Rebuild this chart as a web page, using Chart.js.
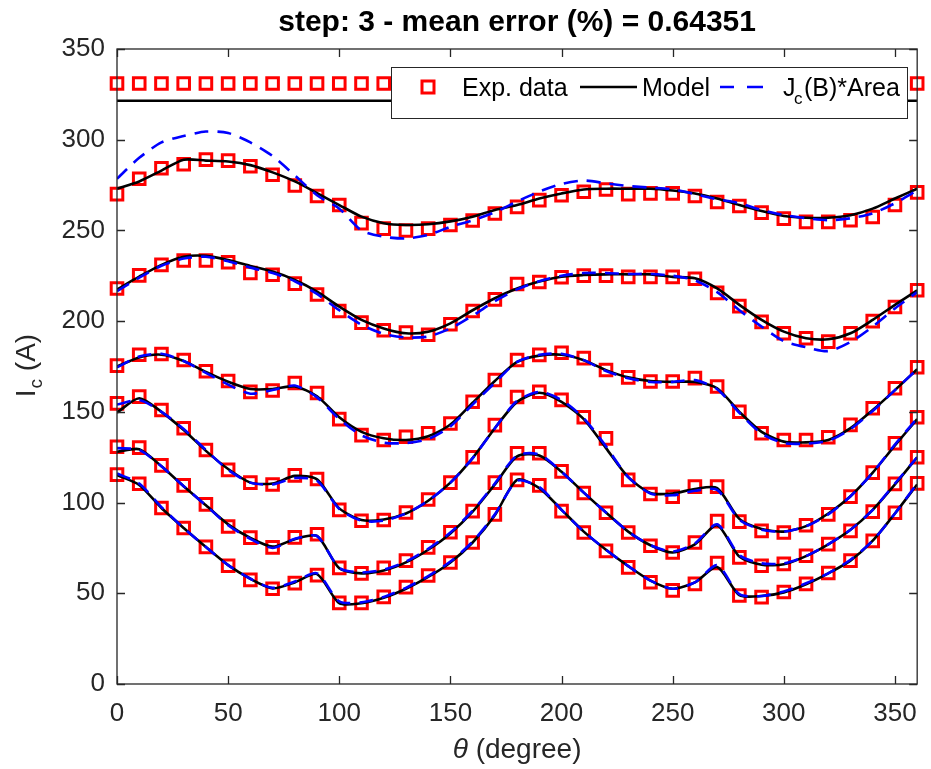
<!DOCTYPE html>
<html>
<head>
<meta charset="utf-8">
<script src="https://cdn.jsdelivr.net/npm/chart.js@4.4.0/dist/chart.umd.min.js"></script>
<style>
  html, body { margin: 0; padding: 0; background: #fff; }
  #chart { display: block; }
</style>
</head>
<body>
<canvas id="chart" width="931" height="769"></canvas>
<script>
// angles (degree)
const thetas = [0, 10, 20, 30, 40, 50, 60, 70, 80, 90, 100, 110, 120, 130, 140, 150, 160, 170, 180,
                190, 200, 210, 220, 230, 240, 250, 260, 270, 280, 290, 300, 310, 320, 330, 340, 350, 360];

const xTicks = [0, 50, 100, 150, 200, 250, 300, 350];
const yTicks = [0, 50, 100, 150, 200, 250, 300, 350];

// top row (hidden behind legend)
const expTop   = [331, 331, 331, 331, 331, 331, 331, 331, 331, 331, 331, 331, 331, 331, 331, 331, 331, 331, 331,
                  331, 331, 331, 331, 331, 331, 331, 331, 331, 331, 331, 331, 331, 331, 331, 331, 331, 331];
const modelTop = [321.5, 321.5, 321.5, 321.5, 321.5, 321.5, 321.5, 321.5, 321.5, 321.5, 321.5, 321.5, 321.5,
                  321.5, 321.5, 321.5, 321.5, 321.5, 321.5, 321.5, 321.5, 321.5, 321.5, 321.5, 321.5, 321.5,
                  321.5, 321.5, 321.5, 321.5, 321.5, 321.5, 321.5, 321.5, 321.5, 321.5, 321.5];

// curve 1
const exp1   = [270, 278.5, 284.3, 286.5, 289, 288.5, 285.4, 280.7, 274.8, 269, 264, 254, 251, 250, 251, 253, 255.5, 259.3, 263,
                266.7, 269.4, 271.3, 272.6, 270, 270.4, 270.4, 269, 265.7, 263.5, 259.8, 256.5, 254.7, 254.7, 255.6, 257.4, 264, 271];
const model1 = [273, 277, 283, 289, 288.5, 288, 286, 282, 277, 270.6, 264, 257.6, 254, 253, 253.4, 255, 257.6, 261.3, 264,
                267.6, 270.4, 272.6, 273, 273, 273, 272, 270.4, 267.6, 264, 260.7, 258, 257, 257, 258.4, 262, 267.6, 273];
const jc1    = [278.5, 290, 298.5, 302, 304.5, 303.7, 298.5, 291, 280.3, 269.4, 262, 250, 246.5, 245.6, 247.5, 252, 255.6, 260, 265.9,
                271.4, 275.6, 277.5, 276, 274.5, 273.6, 272.7, 270, 267.2, 265, 261.3, 258.5, 256.7, 255.6, 256.7, 259.4, 265, 272];

// curve 2
const exp2   = [218, 225.2, 231, 233.4, 233.4, 232.5, 226.5, 225.6, 220.7, 214.7, 205.6, 199.2, 195, 193.7, 192.5, 198.3, 205.6, 212, 220.5,
                221.6, 224.2, 225.1, 225.1, 224.4, 224.4, 224.4, 223.4, 215.6, 208.3, 199.6, 193.3, 190.6, 188.7, 193.3, 200, 207.8, 217];
const model2 = [217.5, 224.5, 231, 235.5, 236, 233.7, 230.4, 227.3, 222.7, 216.3, 208, 200.7, 196, 193.3, 194.2, 198.8, 206, 212.6, 218,
                221.8, 224.5, 225.4, 225.8, 225.8, 225.8, 224.4, 223.6, 218, 209, 200.7, 194.2, 190.6, 190, 193.3, 200.7, 209, 217];
const jc2    = [216.5, 224, 230.5, 234.5, 235.5, 233, 229.5, 226.5, 222, 215, 206, 198, 193, 191, 191.5, 196, 203, 211, 217.5,
                222, 225, 226.5, 226.5, 226, 226, 225, 222.5, 216, 206, 197, 189, 185.6, 183.5, 188.5, 197, 207, 216];

// curve 3
const exp3   = [175.5, 181.5, 181.9, 178.6, 172.4, 167, 161, 161.8, 165.9, 160.4, 146, 137.2, 134.5, 136.3, 138.2, 143.6, 155.6, 167.6, 178.6,
                181.4, 182.6, 179.6, 173.1, 169, 166.7, 166.7, 168.6, 164, 150.1, 138.2, 134.5, 134.5, 136, 142.8, 152, 163, 174.6];
const model3 = [175, 180, 181.5, 178, 172, 166.6, 162.6, 162.6, 164, 158.6, 147, 139, 135.5, 134.5, 136.5, 143, 155, 167, 177.5,
                181, 181.5, 178.5, 173, 169, 167, 166.5, 166.5, 163, 150, 139, 133.6, 133.2, 134.5, 141, 151, 162, 173.5];
const jc3    = [174.5, 180.5, 182, 178, 171.5, 165, 160, 162, 164.5, 158, 146, 137, 133, 132.8, 135, 142, 154, 166, 177.5,
                181.5, 182, 178.5, 172.5, 168.5, 166.5, 166.5, 167.5, 162.5, 149.5, 138, 132.8, 132.5, 134, 140.5, 150.5, 162, 173.5];

// curve 4
const exp4   = [154.7, 158.4, 151, 141, 129, 118, 111, 110, 115, 113, 96, 90, 90.4, 94.5, 101.7, 111, 125, 142.7, 158.2,
                161.1, 156.6, 147, 135.4, 112.5, 104.7, 103.2, 108.8, 108.8, 89.5, 84.4, 83.5, 87.5, 93.5, 103.3, 116.5, 132.7, 147];
const model4 = [149.6, 157.5, 150, 140, 128.5, 118.5, 111, 110.5, 114.7, 112.8, 96.8, 90.4, 90.7, 94, 101, 111, 124.5, 141, 155.5,
                160.5, 155.5, 146, 130, 114, 105.3, 105, 107.5, 108, 91, 85.5, 84, 87, 94, 103.5, 116.5, 131.5, 146];
const jc4    = [154, 156.5, 150, 140.5, 129, 118, 111, 110, 113.5, 112, 96.5, 90, 90, 94, 101, 111, 124.5, 141, 156,
                161, 156.5, 146.5, 131, 114, 105, 104, 106.5, 107, 90.5, 85, 84, 87, 93.5, 103.5, 116.5, 132, 146.5];

// curve 5
const exp5   = [130.8, 130.3, 120.5, 109.5, 99, 86.8, 80.7, 75.3, 80.8, 82.5, 64, 61, 64, 68, 75.3, 83.6, 95.3, 111, 127.2,
                127.2, 117.2, 105.3, 94.4, 83.5, 76.2, 72.5, 78, 89.8, 69.8, 65.2, 66.2, 70.7, 77.1, 84.4, 95, 110.3, 125];
const model5 = [128, 129.4, 120, 109, 98.5, 88, 80.5, 75.7, 79.8, 81.6, 63.8, 61, 62.5, 67, 74, 83, 95, 110, 125.5,
                126, 117, 105.5, 94.5, 84, 76.5, 72.5, 77, 87.5, 70.2, 65.7, 66, 70.5, 77, 85, 96, 110, 125];
const jc5    = [130, 129, 120, 109, 98.5, 87.5, 80, 75, 80, 81.5, 64, 61.5, 63, 67.5, 74.5, 83.5, 95.5, 110.5, 126,
                126.5, 117, 105.5, 94.5, 84, 76.5, 73, 77.5, 88, 71, 66.5, 66.5, 70.5, 77, 85, 96, 110.5, 125];

// curve 6
const exp6   = [115.4, 110.4, 97, 86, 75.6, 65.2, 57.4, 52.5, 55.6, 60, 44.7, 44.7, 48, 53.4, 59.8, 67, 78, 93.5, 112.5,
                109.5, 95.3, 83.5, 73.4, 64.3, 56.1, 51.6, 55.2, 66.7, 48.8, 47.9, 50.7, 55.2, 61.2, 68, 78.9, 94.4, 110.6];
const model6 = [115.2, 109.7, 97, 86, 75.5, 65.5, 58, 52.7, 56, 60.6, 44.5, 44.5, 47.5, 52.5, 59, 67, 78, 93, 112.5,
                108, 96, 84, 74, 65, 57, 52.5, 56, 64.5, 49, 48.5, 50.5, 55, 61, 68, 79, 94, 110];
const jc6    = [116, 110.5, 97.5, 86, 75.5, 65.5, 58, 53, 56.5, 61, 45.5, 45, 48, 53, 59.5, 67.5, 78.5, 93.5, 112,
                108.5, 96, 84, 74, 65, 57, 52.5, 56, 65.5, 49.5, 48.5, 51, 55.5, 61, 68.5, 79, 94, 110.5];

const expSets   = [expTop, exp1, exp2, exp3, exp4, exp5, exp6];
const modelSets = [modelTop, model1, model2, model3, model4, model5, model6];
const jcSets    = [jc1, jc2, jc3, jc4, jc5, jc6];

const FONT = '"Liberation Sans", Arial, Helvetica, sans-serif';
const AXIS_COLOR = '#262626';

function toPoints(values) {
    return values.map((v, i) => ({ x: thetas[i], y: v }));
}

const datasets = [];
jcSets.forEach(vals => {
    datasets.push({
        data: toPoints(vals), order: 1,
        borderColor: '#0000ff', borderWidth: 2.6, borderDash: [14, 9],
        pointRadius: 0, tension: 0.25, fill: false
    });
});
modelSets.forEach(vals => {
    datasets.push({
        data: toPoints(vals), order: 2,
        borderColor: '#000000', borderWidth: 2.6,
        pointRadius: 0, tension: 0.25, fill: false
    });
});
expSets.forEach(vals => {
    datasets.push({
        data: toPoints(vals), order: 3, showLine: false, clip: false,
        pointStyle: 'rect', pointRadius: 8.2, pointBorderWidth: 3,
        pointBorderColor: '#ff0000', pointBackgroundColor: 'rgba(0,0,0,0)'
    });
});

// title, labels, box, inward ticks, legend
const decor = {
    id: 'decor',
    afterDraw(chart) {
        const ctx = chart.ctx;
        const a = chart.chartArea;
        const xs = chart.scales.x, ys = chart.scales.y;
        ctx.save();

        // box + ticks
        ctx.strokeStyle = AXIS_COLOR;
        ctx.lineWidth = 1.3;
        ctx.strokeRect(a.left, a.top, a.right - a.left, a.bottom - a.top);
        ctx.beginPath();
        xTicks.forEach(v => {
            const px = Math.round(xs.getPixelForValue(v)) + 0.5;
            ctx.moveTo(px, a.bottom); ctx.lineTo(px, a.bottom - 8);
            ctx.moveTo(px, a.top); ctx.lineTo(px, a.top + 8);
        });
        yTicks.forEach(v => {
            const py = Math.round(ys.getPixelForValue(v)) + 0.5;
            ctx.moveTo(a.left, py); ctx.lineTo(a.left + 8, py);
            ctx.moveTo(a.right, py); ctx.lineTo(a.right - 8, py);
        });
        ctx.stroke();

        // title
        ctx.fillStyle = '#000';
        ctx.textAlign = 'center';
        ctx.textBaseline = 'alphabetic';
        ctx.font = 'bold 30px ' + FONT;
        ctx.fillText('step: 3 - mean error (%) = 0.64351', (a.left + a.right) / 2, 31);

        // x label
        ctx.fillStyle = AXIS_COLOR;
        ctx.textAlign = 'left';
        ctx.font = 'italic 28px ' + FONT;
        const th = 'θ';
        const wTh = ctx.measureText(th).width;
        ctx.font = '28px ' + FONT;
        const rest = ' (degree)';
        const wRest = ctx.measureText(rest).width;
        let x0 = (a.left + a.right) / 2 - (wTh + wRest) / 2;
        ctx.font = 'italic 28px ' + FONT;
        ctx.fillText(th, x0, 758);
        ctx.font = '28px ' + FONT;
        ctx.fillText(rest, x0 + wTh, 758);

        // y label (rotated)
        ctx.save();
        ctx.translate(35, 366);
        ctx.rotate(-Math.PI / 2);
        ctx.font = '28px ' + FONT;
        const wI = ctx.measureText('I').width;
        const wA = ctx.measureText(' (A)').width;
        ctx.font = '19px ' + FONT;
        const wc = ctx.measureText('c').width;
        let s = -(wI + wc + wA) / 2;
        ctx.font = '28px ' + FONT;
        ctx.fillText('I', s, 0);
        ctx.font = '19px ' + FONT;
        ctx.fillText('c', s + wI + 1, 7);
        ctx.font = '28px ' + FONT;
        ctx.fillText(' (A)', s + wI + wc + 1, 0);
        ctx.restore();

        // legend
        const L = { x: 391, y: 67, w: 516, h: 51 };
        ctx.fillStyle = '#fff';
        ctx.fillRect(L.x, L.y, L.w, L.h);
        ctx.strokeStyle = AXIS_COLOR;
        ctx.lineWidth = 1;
        ctx.strokeRect(L.x + 0.5, L.y + 0.5, L.w, L.h);
        const cy = L.y + 20;
        ctx.strokeStyle = '#ff0000';
        ctx.lineWidth = 3;
        ctx.strokeRect(422, cy - 6, 12, 12);
        ctx.lineWidth = 2.6;
        ctx.fillStyle = '#000';
        ctx.font = '25px ' + FONT;
        ctx.fillText('Exp. data', 462, cy + 9);
        ctx.strokeStyle = '#000';
        ctx.beginPath(); ctx.moveTo(580, cy); ctx.lineTo(637, cy); ctx.stroke();
        ctx.fillText('Model', 642, cy + 9);
        ctx.strokeStyle = '#0000ff';
        ctx.beginPath();
        ctx.moveTo(720, cy); ctx.lineTo(734, cy);
        ctx.moveTo(747, cy); ctx.lineTo(763, cy);
        ctx.stroke();
        ctx.fillText('J', 783, cy + 9);
        ctx.font = '17px ' + FONT;
        ctx.fillText('c', 794, cy + 17);
        ctx.font = '25px ' + FONT;
        ctx.fillText('(B)*Area', 804, cy + 9);

        ctx.restore();
    }
};

new Chart(document.getElementById('chart').getContext('2d'), {
    type: 'line',
    data: { datasets: datasets },
    options: {
        responsive: false,
        animation: false,
        devicePixelRatio: 1,
        layout: { padding: { top: 49, right: 13, left: 0, bottom: 0 } },
        plugins: { legend: { display: false }, title: { display: false }, tooltip: { enabled: false } },
        scales: {
            x: {
                type: 'linear', min: 0, max: 360,
                grid: { display: false, drawTicks: false },
                border: { display: false },
                afterBuildTicks: scale => { scale.ticks = xTicks.map(v => ({ value: v })); },
                afterFit: scale => { scale.height = 85; },
                ticks: { color: AXIS_COLOR, font: { family: FONT, size: 26 }, padding: 14, maxRotation: 0 }
            },
            y: {
                type: 'linear', min: 0, max: 350,
                grid: { display: false, drawTicks: false },
                border: { display: false },
                afterBuildTicks: scale => { scale.ticks = yTicks.map(v => ({ value: v })); },
                afterFit: scale => { scale.width = 117; },
                ticks: { color: AXIS_COLOR, font: { family: FONT, size: 26 }, padding: 12 }
            }
        }
    },
    plugins: [decor]
});
</script>
</body>
</html>
